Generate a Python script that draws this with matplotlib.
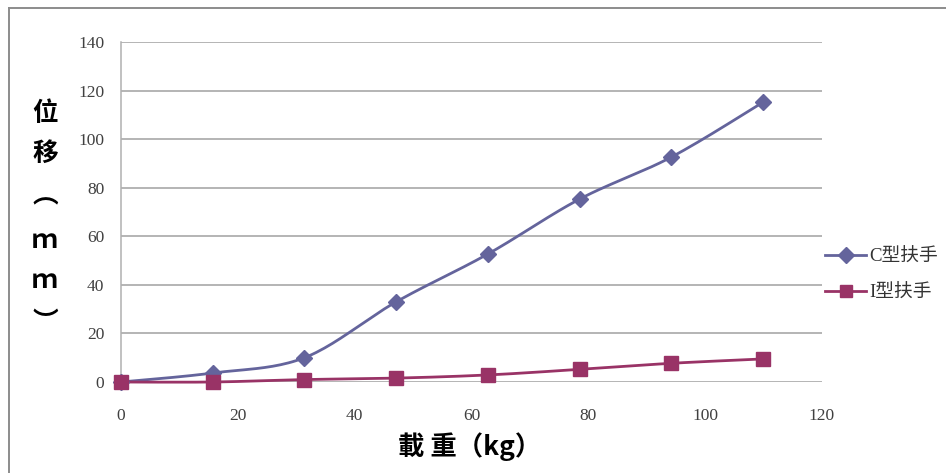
import numpy as np
import matplotlib
matplotlib.use("Agg")
import matplotlib.pyplot as plt
from matplotlib.lines import Line2D

# load (kg) vs. displacement (mm)
load = [0, 15.7, 31.4, 47.1, 62.8, 78.5, 94.2, 109.9]
c_disp = [0, 3.7, 10.0, 33.0, 52.7, 75.3, 92.6, 115.2]
i_disp = [0, 0, 1.0, 1.6, 2.9, 5.2, 7.7, 9.5]
series_names = ["C型扶手", "I型扶手"]

xticks = [0, 20, 40, 60, 80, 100, 120]
yticks = [0, 20, 40, 60, 80, 100, 120, 140]


def smooth(x, y, n=24):
    # cardinal (Catmull-Rom) spline through the points, like a smoothed line
    x = np.asarray(x, float)
    y = np.asarray(y, float)
    px = np.concatenate([[x[0]], x, [x[-1]]])
    py = np.concatenate([[y[0]], y, [y[-1]]])
    xs, ys = [], []
    t = np.linspace(0, 1, n)
    for i in range(1, len(px) - 2):
        p0, p1, p2, p3 = [np.array([px[j], py[j]]) for j in (i - 1, i, i + 1, i + 2)]
        c1 = p1 + (p2 - p0) / 6.0
        c2 = p2 - (p3 - p1) / 6.0
        seg = ((1 - t) ** 3)[:, None] * p1 + (3 * (1 - t) ** 2 * t)[:, None] * c1 \
            + (3 * (1 - t) * t ** 2)[:, None] * c2 + (t ** 3)[:, None] * p2
        xs.extend(seg[:, 0])
        ys.extend(seg[:, 1])
    return xs, ys


fig = plt.figure(figsize=(9.46, 4.73), dpi=100)
ax = fig.add_axes([121 / 946, 1 - 382 / 473, 701 / 946, 340 / 473])

c_col = "#64649c"
i_col = "#993366"
cjk = ["Noto Sans CJK TC", "DejaVu Sans"]

sx, sy = smooth(load, c_disp)
ax.plot(sx, sy, color=c_col, lw=2.0, zorder=3, clip_on=False)
ax.plot(load, c_disp, ls="none", marker="D", ms=8, color=c_col, zorder=4, clip_on=False)

sx, sy = smooth(load, i_disp)
ax.plot(sx, sy, color=i_col, lw=2.0, zorder=3, clip_on=False)
ax.plot(load, i_disp, ls="none", marker="s", ms=10, color=i_col, zorder=5, clip_on=False)

ax.set_xlim(0, 120)
ax.set_ylim(0, 140)
ax.set_xticks(xticks)
ax.set_yticks(yticks)
ax.yaxis.grid(True, color="#a0a0a0", lw=1.1)
ax.set_axisbelow(True)
for s in ["top", "right", "bottom"]:
    ax.spines[s].set_visible(False)
ax.spines["left"].set_color("#b0b0b0")
ax.spines["left"].set_linewidth(1.1)
ax.tick_params(axis="x", length=0, pad=19, labelsize=12.5, labelcolor="#404040")
ax.tick_params(axis="y", length=0, pad=12, labelsize=12.5, labelcolor="#404040")
for lab in ax.get_xticklabels() + ax.get_yticklabels():
    lab.set_family("Liberation Serif")

# vertical y title, one glyph per row
ylab_chars = ["位", "移", "︵", "ｍ", "ｍ", "︶"]
ylab_rows = [113, 153, 196, 240, 280, 322]
for ch, yy in zip(ylab_chars, ylab_rows):
    fig.text(45 / 946, 1 - yy / 473, ch, ha="center", va="center",
             fontsize=18.5, fontweight="bold", family=cjk)

fig.text(470 / 946, 1 - 447 / 473, "載 重（kg）", ha="center", va="center",
         fontsize=19, fontweight="bold", family=cjk)

# legend
handles = [Line2D([], [], color=c_col, lw=2.0, marker="D", ms=8),
           Line2D([], [], color=i_col, lw=2.0, marker="s", ms=9)]
leg = fig.legend(handles, series_names, loc="center left",
                 bbox_to_anchor=(825 / 946, 1 - 275 / 473), frameon=False,
                 borderpad=0, borderaxespad=0,
                 handlelength=2.2, handletextpad=0.15, labelspacing=1.0,
                 prop={"family": ["Liberation Serif", "Noto Sans CJK TC"], "size": 13.5})
for t in leg.get_texts():
    t.set_color("#333333")

# outer chart frame (top and left edges)
fig.add_artist(Line2D([8.5 / 946, 8.5 / 946], [0, 1 - 8.5 / 473], color="#8c8c8c", lw=1.4,
                      transform=fig.transFigure))
fig.add_artist(Line2D([8.5 / 946, 1], [1 - 8.5 / 473, 1 - 8.5 / 473], color="#8c8c8c", lw=1.4,
                      transform=fig.transFigure))

fig.savefig("out.png", dpi=100)
